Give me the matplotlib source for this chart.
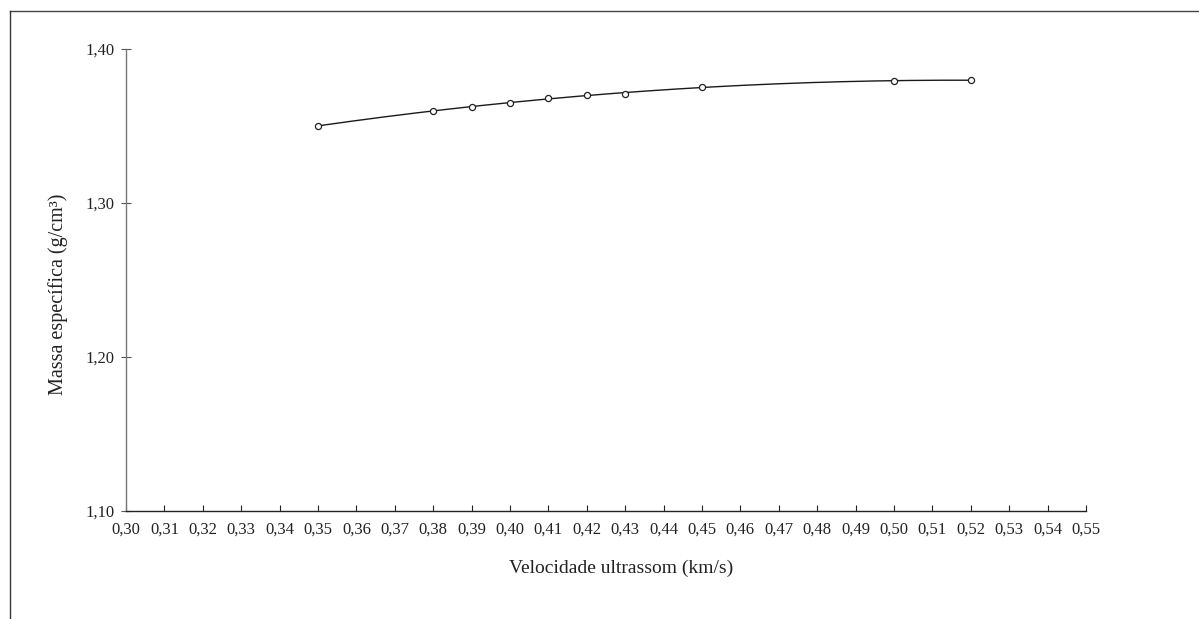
import matplotlib
matplotlib.use("Agg")
import matplotlib.pyplot as plt
from matplotlib.lines import Line2D
import numpy as np

plt.rcParams['font.family'] = ['Liberation Serif', 'DejaVu Serif']

velocidade = [0.35, 0.38, 0.39, 0.40, 0.41, 0.42, 0.43, 0.45, 0.50, 0.52]
massa = [1.350, 1.360, 1.3625, 1.365, 1.368, 1.370, 1.371, 1.3755, 1.379, 1.380]
x_ticks = [round(0.30 + 0.01 * i, 2) for i in range(26)]
y_ticks = [1.10, 1.20, 1.30, 1.40]

def fmt(v):
    return f"{v:.2f}".replace(".", ",")

fig = plt.figure(figsize=(11.99, 6.19), dpi=100)
ax = fig.add_axes([126 / 1199, 1 - 511 / 619, (1086 - 126) / 1199, (511 - 49) / 619])

ax.set_xlim(0.30, 0.55)
ax.set_ylim(1.10, 1.40)

# second-order polynomial trend line over the measured range
coef = np.polyfit(velocidade, massa, 2)
xt = np.linspace(min(velocidade), max(velocidade), 200)
ax.plot(xt, np.polyval(coef, xt), color='#1a1a1a', lw=1.0)

ax.plot(velocidade, massa, linestyle='none', marker='o', markersize=4.4,
        markerfacecolor='white', markeredgecolor='#222222', markeredgewidth=0.9, zorder=3)

for s in ['top', 'right']:
    ax.spines[s].set_visible(False)
ax.spines['left'].set_color('#777777')
ax.spines['left'].set_linewidth(1.0)
ax.spines['bottom'].set_color('#222222')
ax.spines['bottom'].set_linewidth(1.0)

ax.set_xticks(x_ticks)
ax.set_xticklabels([fmt(v) for v in x_ticks], fontsize=12, color='#222222')
ax.set_yticks(y_ticks)
ax.set_yticklabels([fmt(v) for v in y_ticks], fontsize=12, color='#222222')
ax.tick_params(axis='x', direction='in', length=4, width=0.8, color='#222222', pad=8)
ax.tick_params(axis='y', direction='inout', length=7, width=0.8, color='#555555', pad=5)

ax.set_xlabel('Velocidade ultrassom (km/s)', fontsize=14, color='#222222')
ax.set_ylabel('Massa específica (g/cm³)', fontsize=14.5, color='#222222')
ax.xaxis.set_label_coords((621 - 126) / 960, (511 - 568) / 462)
ax.xaxis.label.set_va('center')
ax.yaxis.set_label_coords((58.5 - 126) / 960, (511 - 294.5) / 462)
ax.yaxis.label.set_va('center')

# outer frame
fig.add_artist(Line2D([10 / 1199, 1.0], [1 - 11 / 619, 1 - 11 / 619], color='#444444', lw=1.0,
                      transform=fig.transFigure))
fig.add_artist(Line2D([10 / 1199, 10 / 1199], [0.0, 1 - 11 / 619], color='#333344', lw=1.0,
                      transform=fig.transFigure))

fig.savefig('out.png', dpi=100)
